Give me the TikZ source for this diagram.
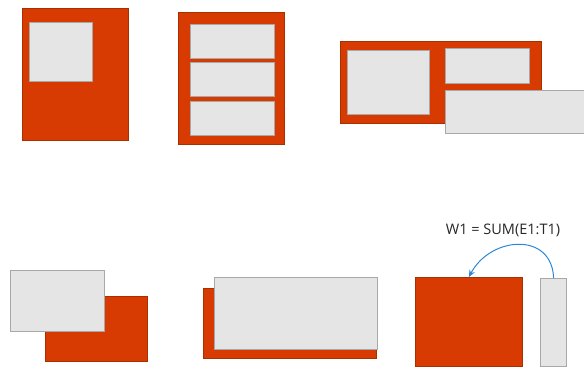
\documentclass[tikz,border=0pt]{standalone}
\usepackage{fontspec}
\setmainfont{Open Sans}
\usetikzlibrary{arrows.meta}
\definecolor{xlOrange}{HTML}{D83B01}
\definecolor{xlRust}{HTML}{A83000}
\definecolor{xlPane}{HTML}{E5E5E5}
\definecolor{xlEdge}{HTML}{A8A8A8}
\definecolor{xlBlue}{HTML}{2B88D8}
\tikzset{
  sheet/.style ={draw=xlRust,fill=xlOrange,line width=0.8pt,inner sep=0pt,anchor=north west},
  pane/.style  ={draw=xlEdge,fill=xlPane,line width=1.2pt,inner sep=0pt,anchor=north west},
  flow/.style  ={-{Stealth[length=7pt,width=6pt]},xlBlue,line width=1pt},
  lbl/.style   ={font=\fontsize{14.5}{16}\selectfont,text=black!85},
}
\begin{document}
\begin{tikzpicture}[x=1pt,y=-1pt]
\useasboundingbox (0,0) rectangle (584,380);

%% one pane frozen top left
\node[sheet,minimum width=106,minimum height=132] (sheetA) at (22,8) {};
\node[pane,minimum width=63,minimum height=59] (paneA) at (29,22) {};

%% three stacked rows
\node[sheet,minimum width=106,minimum height=132] (sheetB) at (178,12) {};
\node[pane,minimum width=84,minimum height=34] (rowB1) at (190,24) {};
\node[pane,minimum width=84,minimum height=34] (rowB2) at (190,62) {};
\node[pane,minimum width=84,minimum height=34] (rowB3) at (190,101) {};

%% split panes, one spilling out
\node[sheet,minimum width=201,minimum height=82] (sheetC) at (340,41) {};
\node[pane,minimum width=82,minimum height=64] (paneC1) at (347,50) {};
\node[pane,minimum width=84,minimum height=35] (paneC2) at (445,48) {};
\node[pane,minimum width=142,minimum height=43] (paneC3) at (445,90) {};

%% pane offset over sheet
\node[sheet,minimum width=102,minimum height=65] (sheetD) at (45,296) {};
\node[pane,minimum width=94,minimum height=61] (paneD) at (10,270) {};

%% pane covering sheet
\node[sheet,minimum width=173,minimum height=70] (sheetE) at (203,288) {};
\node[pane,minimum width=163,minimum height=72] (paneE) at (214,277) {};

%% column summed back into the sheet
\node[sheet,minimum width=107,minimum height=89] (sheetF) at (415,277) {};
\node[pane,minimum width=26,minimum height=88] (colF) at (540,278) {};
\node[lbl] (sumF) at (503,230) {W1 = SUM(E1:T1)};
\draw[flow] (colF.north) to[out=92,in=62,looseness=1.4] (sheetF.north);
\end{tikzpicture}
\end{document}
